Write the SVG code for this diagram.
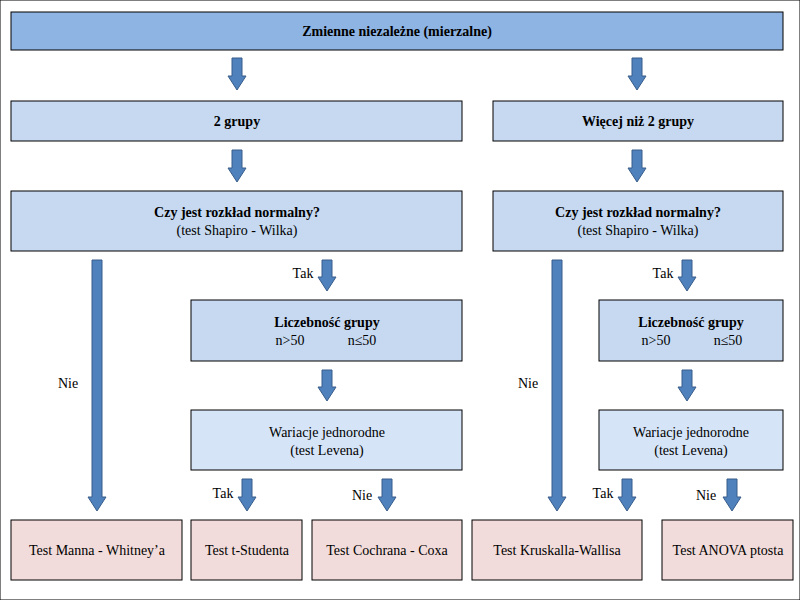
<svg xmlns="http://www.w3.org/2000/svg" width="800" height="600" viewBox="0 0 800 600">
<style>
text{font-family:"Liberation Serif",serif;font-size:14px;fill:#000;text-anchor:middle}
.b{font-weight:bold}
rect{stroke:#000;stroke-width:1}
.t{fill:#8eb4e3}.m{fill:#c6d9f1}.l{fill:#d6e4f7}.r{fill:#f2dcdb}
.a{fill:#4f81bd;stroke:#385d8a;stroke-width:1}
</style>
<rect width="800" height="600" fill="#fff" stroke="none"/>
<g id="top"><rect class="t" x="11" y="12" width="772" height="38"/><text class="b" x="397" y="36">Zmienne niezależne (mierzalne)</text></g>
<g id="g2"><rect class="m" x="11" y="101" width="451" height="40"/><text class="b" x="237" y="126">2 grupy</text></g>
<g id="gm"><rect class="m" x="493" y="101" width="290" height="40"/><text class="b" x="638" y="126">Więcej niż 2 grupy</text></g>
<g id="n1"><rect class="m" x="11" y="191" width="451" height="60"/><text class="b" x="237" y="217">Czy jest rozkład normalny?</text><text x="237" y="235">(test Shapiro - Wilka)</text></g>
<g id="n2"><rect class="m" x="493" y="191" width="290" height="60"/><text class="b" x="638" y="217">Czy jest rozkład normalny?</text><text x="638" y="235">(test Shapiro - Wilka)</text></g>
<g id="c1"><rect class="m" x="191" y="300" width="271" height="61"/><text class="b" x="327" y="327">Liczebność grupy</text><text x="290" y="345">n&gt;50</text><text x="362" y="345">n≤50</text></g>
<g id="c2"><rect class="m" x="599" y="300" width="184" height="61"/><text class="b" x="691" y="327">Liczebność grupy</text><text x="656" y="345">n&gt;50</text><text x="728" y="345">n≤50</text></g>
<g id="w1"><rect class="l" x="191" y="410" width="271" height="60"/><text x="327" y="437">Wariacje jednorodne</text><text x="327" y="455">(test Levena)</text></g>
<g id="w2"><rect class="l" x="599" y="410" width="184" height="60"/><text x="691" y="437">Wariacje jednorodne</text><text x="691" y="455">(test Levena)</text></g>
<g id="r1"><rect class="r" x="11" y="520" width="171" height="60"/><text x="97" y="555">Test Manna - Whitney’a</text></g>
<g id="r2"><rect class="r" x="191" y="520" width="111" height="60"/><text x="247" y="555">Test t-Studenta</text></g>
<g id="r3"><rect class="r" x="312" y="520" width="150" height="60"/><text x="387" y="555">Test Cochrana - Coxa</text></g>
<g id="r4"><rect class="r" x="472" y="520" width="170" height="60"/><text x="557" y="555">Test Kruskalla-Wallisa</text></g>
<g id="r5"><rect class="r" x="662" y="520" width="131" height="60"/><text x="728" y="555">Test ANOVA ptosta</text></g>
<g id="connectors">
<path class="a" d="M232,58H242V76H246L237,90L228,76H232Z"/>
<path class="a" d="M632,58H642V76H646L637,90L628,76H632Z"/>
<path class="a" d="M232,150H242V168H246L237,182L228,168H232Z"/>
<path class="a" d="M632,150H642V168H646L637,182L628,168H632Z"/>
<path class="a" d="M92,260H102V497H106L97,511L88,497H92Z"/>
<path class="a" d="M552,260H562V497H566L557,511L548,497H552Z"/>
<path class="a" d="M322,260H332V277H336L327,291L318,277H322Z"/>
<path class="a" d="M682,260H692V277H696L687,291L678,277H682Z"/>
<path class="a" d="M322,370H332V387H336L327,401L318,387H322Z"/>
<path class="a" d="M682,370H692V387H696L687,401L678,387H682Z"/>
<path class="a" d="M242,479H252V497H256L247,511L238,497H242Z"/>
<path class="a" d="M382,479H392V497H396L387,511L378,497H382Z"/>
<path class="a" d="M622,479H632V497H636L627,511L618,497H622Z"/>
<path class="a" d="M727,479H737V497H741L732,511L723,497H727Z"/>
<text x="303" y="278">Tak</text><text x="663" y="278">Tak</text>
<text x="68" y="388">Nie</text><text x="528" y="388">Nie</text>
<text x="223" y="498">Tak</text><text x="603" y="498">Tak</text>
<text x="362" y="500">Nie</text><text x="706" y="500">Nie</text>
</g>
</svg>
